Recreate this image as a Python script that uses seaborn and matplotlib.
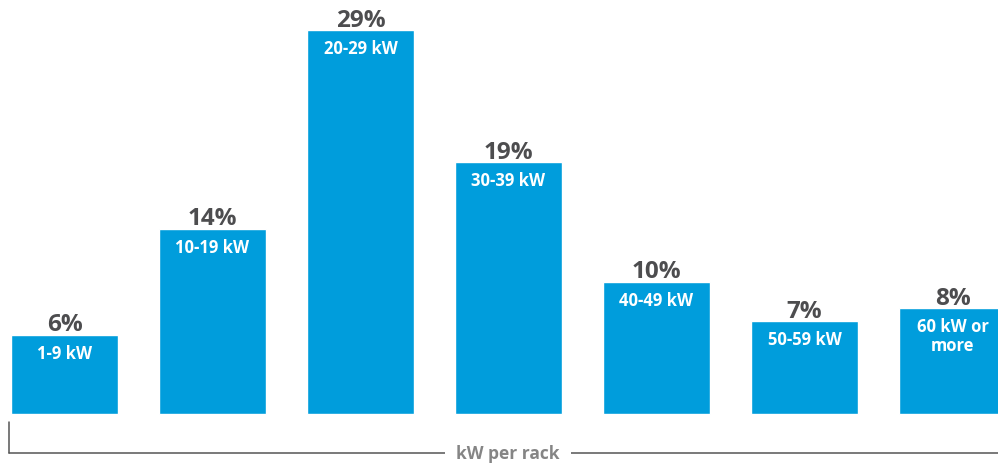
import matplotlib
matplotlib.use("Agg")
import matplotlib.pyplot as plt
import seaborn as sns
import pandas as pd

# share of racks by density band
categories = ["1-9 kW", "10-19 kW", "20-29 kW", "30-39 kW", "40-49 kW", "50-59 kW", "60 kW or\nmore"]
shares = [6, 14, 29, 19, 10, 7, 8]
axis_label = "kW per rack"

bar_color = "#009DDC"
pct_color = "#4D4D4F"
label_gray = "#858585"
line_gray = "#555555"

sns.set_theme(style="white")
plt.rcParams['font.family'] = ['Open Sans', 'DejaVu Sans']

df = pd.DataFrame({"band": categories, "share": shares})

fig = plt.figure(figsize=(9.98, 4.64), dpi=100)
ax = fig.add_axes([0, 0, 1, 1])
sns.barplot(data=df, x="band", y="share", color=bar_color, saturation=1,
            width=0.723, ax=ax)

# pixel layout of the original: bar pitch 148px, first centre at 64.5px,
# baseline at 415px, 13.24px per percentage point
ax.set_xlim(-64.5 / 148, (998 - 64.5) / 148)
ax.set_ylim(-49 / 13.24, 415 / 13.24)
ax.axis("off")

for i, (cat, v) in enumerate(zip(categories, shares)):
    ax.annotate(f"{v}%", (i, v), xytext=(0, 3), textcoords="offset points",
                ha="center", va="baseline", fontsize=17.5, fontweight="bold",
                color=pct_color)
    ax.annotate(cat, (i, v), xytext=(0, -6.5), textcoords="offset points",
                ha="center", va="top", fontsize=12, fontweight="bold",
                color="white", linespacing=1.05)

# bracket along the bottom
y_line = 1 - 454 / 464
x0 = 9 / 998
ax.plot([x0, 1], [y_line, y_line], transform=ax.transAxes, color=line_gray,
        lw=1.1, clip_on=False)
ax.plot([x0, x0], [y_line, 1 - 423 / 464], transform=ax.transAxes,
        color=line_gray, lw=1.1, clip_on=False)
ax.text(508 / 998, y_line, axis_label, transform=ax.transAxes, ha="center",
        va="center", fontsize=12.5, fontweight="bold", color=label_gray,
        bbox=dict(facecolor="white", edgecolor="none", pad=8))

fig.savefig("out.png", dpi=100)
